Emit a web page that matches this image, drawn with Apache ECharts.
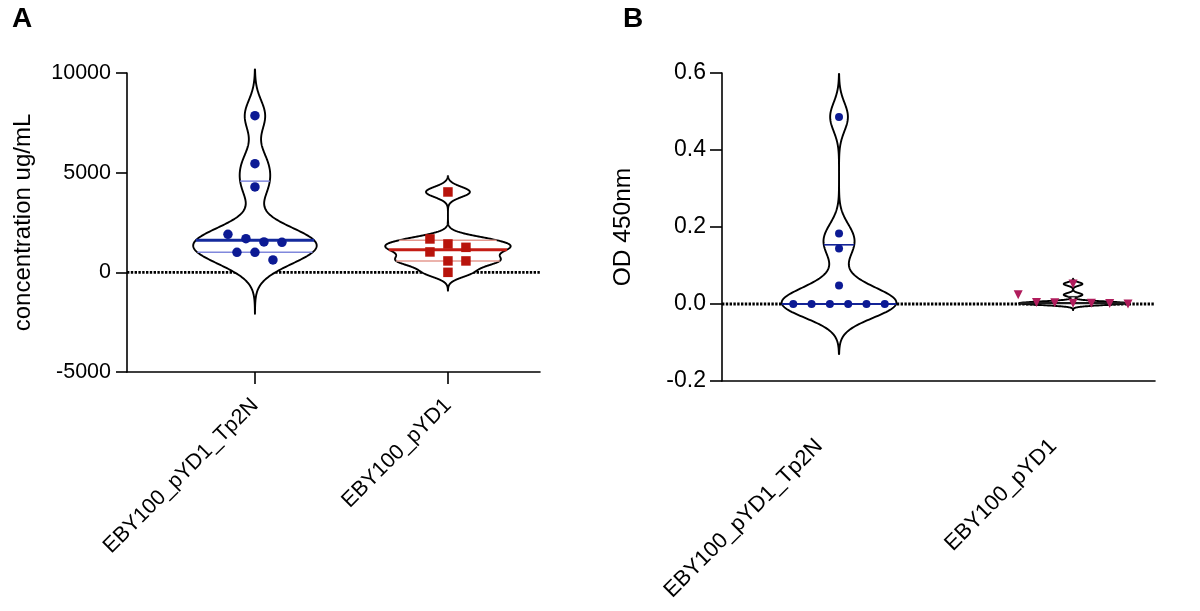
<!DOCTYPE html>
<html><head><meta charset="utf-8">
<script src="https://cdn.jsdelivr.net/npm/echarts@6/dist/echarts.min.js"></script>
<style>html,body{margin:0;padding:0;background:#fff}#c{width:1200px;height:611px}</style>
</head><body><div id="c"></div>
<script>
// ---- data ----
const categories = ['EBY100_pYD1_Tp2N', 'EBY100_pYD1'];
const concTp2N = [7858, 5451, 4283, 1906, 1690, 1525, 1505, 1003, 1003, 622];
const concPYD1 = [4032, 1675, 1424, 1254, 1023, 572, 572, 0];
const odTp2N = [0.486, 0.183, 0.144, 0.048, 0, 0, 0, 0, 0, 0];
const odPYD1 = [0.052, 0.024, 0.004, 0.003, 0.002, 0.002, 0.001, 0.000];
const ticksA = [-5000, 0, 5000, 10000];
const ticksB = [-0.2, 0.0, 0.2, 0.4, 0.6];

const FONT = '"Liberation Sans", Arial, Helvetica, sans-serif';
const gridA = {left: 127, top: 73, width: 413, height: 299};
const gridB = {left: 722, top: 73, width: 433, height: 308};
const xRangeA = [-0.663, 1.477];
const xRangeB = [-0.5, 1.35];

// ---- stats helpers ----
function quantile(s, p) {
  const n = s.length, pos = (n + 1) * p;
  if (pos <= 1) return s[0];
  if (pos >= n) return s[n - 1];
  const i = Math.floor(pos), f = pos - i;
  return s[i - 1] + f * (s[i] - s[i - 1]);
}
function bandwidth(vals) {
  const s = vals.slice().sort((a, b) => a - b), n = s.length;
  const m = s.reduce((a, b) => a + b, 0) / n;
  const sd = Math.sqrt(s.reduce((a, x) => a + (x - m) * (x - m), 0) / (n - 1));
  const iqr = (quantile(s, 0.75) - quantile(s, 0.25)) / 1.34;
  const sig = iqr > 0 ? Math.min(sd, iqr) : sd;
  return 0.57 * 0.9 * sig * Math.pow(n, -0.2);
}
function violin(vals, cat, halfW, colors) {
  const h = bandwidth(vals);
  const f = v => vals.reduce((a, x) => a + Math.exp(-0.5 * ((v - x) / h) ** 2), 0);
  const lo = Math.min(...vals) - 3.5 * h, hi = Math.max(...vals) + 3 * h;
  const N = 300, samp = [];
  let dmax = 0;
  for (let i = 0; i <= N; i++) {
    const y = lo + (hi - lo) * i / N, d = f(y);
    samp.push([y, d]); if (d > dmax) dmax = d;
  }
  const right = samp.map(([y, d]) => [cat + d / dmax * halfW, y]);
  const left = samp.slice().reverse().map(([y, d]) => [cat - d / dmax * halfW, y]);
  const s = vals.slice().sort((a, b) => a - b);
  const w = v => f(v) / dmax * halfW;
  const q1 = quantile(s, 0.25), q3 = quantile(s, 0.75), med = quantile(s, 0.5);
  return {
    cat, poly: right.concat(left), colors,
    lines: [{v: q1, w: w(q1), k: 'q'}, {v: q3, w: w(q3), k: 'q'}, {v: med, w: w(med), k: 'm'}]
  };
}
function swarm(vals, cat, yPxPerUnit, spacing, threshPx) {
  const s = vals.slice().sort((a, b) => a - b);
  const clusters = []; let cur = null;
  for (const v of s) {
    if (cur && (v - cur[0]) * yPxPerUnit < threshPx) cur.push(v);
    else { cur = [v]; clusters.push(cur); }
  }
  const pts = [];
  clusters.forEach(c => {
    const d = c.slice().sort((a, b) => b - a);
    d.forEach((v, i) => pts.push([cat + (i - (d.length - 1) / 2) * spacing, v]));
  });
  return pts;
}

const yPxA = gridA.height / (ticksA[ticksA.length - 1] - ticksA[0]);
const yPxB = gridB.height / (ticksB[ticksB.length - 1] - ticksB[0]);
const spA = 18 / (gridA.width / (xRangeA[1] - xRangeA[0]));
const spB = 18.3 / (gridB.width / (xRangeB[1] - xRangeB[0]));

const violinsA = [
  violin(concTp2N, 0, 0.32, {m: '#142a9c', q: '#8088dc', mw: 3, qw: 1.5}),
  violin(concPYD1, 1, 0.325, {m: '#c41c14', q: '#e49a90', mw: 3, qw: 1.5})
];
const violinsB = [
  violin(odTp2N, 0, 0.245, {m: '#142496', q: '#142496', mw: 2, qw: 1.6}),
  violin(odPYD1, 1, 0.23, {m: '#1a1a1a', q: '#333', mw: 2, qw: 1.5})
];

function violinSeries(xi, vios) {
  return {
    type: 'custom', xAxisIndex: xi, yAxisIndex: xi, z: 2, silent: true,
    data: vios.map(v => [v.cat, 0]),
    renderItem: (params, api) => {
      const v = vios[params.dataIndex];
      const children = [{
        type: 'polygon', shape: {points: v.poly.map(p => api.coord(p))},
        style: {fill: '#fff', stroke: '#000', lineWidth: 1.9, lineJoin: 'round'}
      }];
      v.lines.forEach(l => {
        const a = api.coord([v.cat - l.w, l.v]), b = api.coord([v.cat + l.w, l.v]);
        children.push({
          type: 'line', shape: {x1: a[0], y1: a[1], x2: b[0], y2: b[1]},
          style: {stroke: l.k === 'm' ? v.colors.m : v.colors.q, lineWidth: l.k === 'm' ? v.colors.mw : v.colors.qw}
        });
      });
      return {type: 'group', children};
    }
  };
}
function zeroLine(xi, range) {
  return {
    type: 'line', xAxisIndex: xi, yAxisIndex: xi, z: 1, silent: true, symbol: 'none',
    data: [[range[0], 0], [range[1], 0]],
    lineStyle: {color: '#000', width: 2.8, type: [2.4, 1.4]}
  };
}
const axisLineStyle = {color: '#000', width: 1.6};

const option = {
  backgroundColor: '#fff',
  animation: false,
  title: [
    {text: 'A', left: 7, top: 0, textStyle: {fontSize: 28, fontWeight: 'bold', color: '#000', fontFamily: FONT}},
    {text: 'B', left: 618, top: 0, textStyle: {fontSize: 28, fontWeight: 'bold', color: '#000', fontFamily: FONT}}
  ],
  grid: [
    Object.assign({}, gridA),
    Object.assign({}, gridB)
  ],
  xAxis: [
    {
      gridIndex: 0, type: 'value', min: xRangeA[0], max: xRangeA[1],
      axisLine: {show: true, onZero: false, lineStyle: axisLineStyle},
      axisTick: {show: true, customValues: [0, 1], length: 12, lineStyle: axisLineStyle},
      axisLabel: {customValues: [0, 1], formatter: v => categories[Math.round(v)], rotate: 45, margin: 30,
        fontSize: 21.5, color: '#000', fontFamily: FONT},
      splitLine: {show: false}
    },
    {
      gridIndex: 1, type: 'value', min: xRangeB[0], max: xRangeB[1],
      axisLine: {show: true, onZero: false, lineStyle: axisLineStyle},
      axisTick: {show: false},
      axisLabel: {customValues: [0, 1], formatter: v => categories[Math.round(v)], rotate: 45, margin: 42,
        padding: [0, 28, 0, 0], fontSize: 22, color: '#000', fontFamily: FONT},
      splitLine: {show: false}
    }
  ],
  yAxis: [
    {
      gridIndex: 0, type: 'value', min: ticksA[0], max: ticksA[ticksA.length - 1], interval: 5000,
      axisLine: {show: true, onZero: false, lineStyle: axisLineStyle},
      axisTick: {show: true, length: 11, lineStyle: axisLineStyle},
      axisLabel: {fontSize: 21.5, margin: 16, color: '#000', fontFamily: FONT, formatter: v => String(v)},
      splitLine: {show: false},
      name: 'concentration ug/mL', nameLocation: 'middle', nameGap: 92,
      nameTextStyle: {fontSize: 24, color: '#000', fontFamily: FONT}
    },
    {
      gridIndex: 1, type: 'value', min: ticksB[0], max: ticksB[ticksB.length - 1], interval: 0.2,
      axisLine: {show: true, onZero: false, lineStyle: axisLineStyle},
      axisTick: {show: true, length: 12, lineStyle: axisLineStyle},
      axisLabel: {fontSize: 23, margin: 16, color: '#000', fontFamily: FONT, formatter: v => v.toFixed(1)},
      splitLine: {show: false},
      name: 'OD 450nm', nameLocation: 'middle', nameGap: 86,
      nameTextStyle: {fontSize: 24.5, color: '#000', fontFamily: FONT}
    }
  ],
  series: [
    zeroLine(0, xRangeA),
    zeroLine(1, xRangeB),
    violinSeries(0, violinsA),
    violinSeries(1, violinsB),
    {type: 'scatter', xAxisIndex: 0, yAxisIndex: 0, z: 4, symbol: 'circle', symbolSize: 9.5,
      itemStyle: {color: '#0c1a94', opacity: 1}, data: swarm(concTp2N, 0, yPxA, spA, 9.5)},
    {type: 'scatter', xAxisIndex: 0, yAxisIndex: 0, z: 4, symbol: 'rect', symbolSize: 9.5,
      itemStyle: {color: '#b8140c', opacity: 1}, data: swarm(concPYD1, 1, yPxA, spA, 9.5)},
    {type: 'scatter', xAxisIndex: 1, yAxisIndex: 1, z: 4, symbol: 'circle', symbolSize: 8,
      itemStyle: {color: '#0c1a94', opacity: 1}, data: swarm(odTp2N, 0, yPxB, spB, 9.5)},
    {type: 'scatter', xAxisIndex: 1, yAxisIndex: 1, z: 4, symbol: 'triangle', symbolRotate: 180, symbolSize: 9,
      itemStyle: {color: '#b01c5c', opacity: 1}, data: swarm(odPYD1, 1, yPxB, spB, 9.5)}
  ]
};
const chart = echarts.init(document.getElementById('c'));
chart.setOption(option);
</script>
</body></html>
